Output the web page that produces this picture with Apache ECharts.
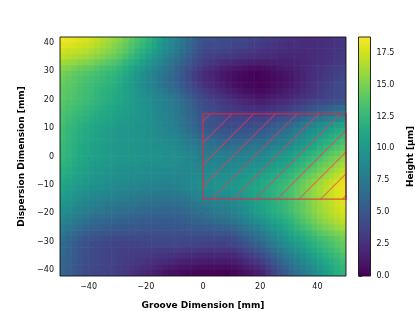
<!DOCTYPE html>
<html><head><meta charset="utf-8">
<style>html,body{margin:0;padding:0;background:#fff}#c{width:415px;height:311px}</style>
<script src="https://cdn.jsdelivr.net/npm/echarts@6/dist/echarts.min.js"></script>
</head><body><div id="c"></div>
<script>
const xCenters=[-49,-47,-45,-43,-41,-39,-37,-35,-33,-31,-29,-27,-25,-23,-21,-19,-17,-15,-13,-11,-9,-7,-5,-3,-1,1,3,5,7,9,11,13,15,17,19,21,23,25,27,29,31,33,35,37,39,41,43,45,47,49];
const yCenters=[41,39,37,35,33,31,29,27,25,23,21,19,17,15,13,11,9,7,5,3,1,-1,-3,-5,-7,-9,-11,-13,-15,-17,-19,-21,-23,-25,-27,-29,-31,-33,-35,-37,-39,-41];
const cellW=2,cellH=2;
const heights=[
[18.4,18.2,18.1,17.9,17.7,17.4,17,16.6,16.2,15.8,15.3,14.7,14,13.4,12.9,12.1,11.3,10.5,9.7,8.9,8.1,7.3,6.5,5.8,5,4.6,4.5,4.4,4.3,4.2,4.1,4,3.9,3.7,3.6,3.4,3.2,3,2.9,2.7,2.6,2.5,2.4,2.4,2.3,2.4,2.5,2.7,2.8,3],
[17.9,17.8,17.6,17.4,17.3,17,16.6,16.2,15.8,15.4,14.9,14.3,13.6,13,12.4,11.7,11,10.1,9.3,8.6,7.8,7.1,6.3,5.5,4.8,4.4,4.3,4.2,4.1,4,3.8,3.7,3.6,3.4,3.3,3.1,2.9,2.8,2.6,2.5,2.4,2.4,2.3,2.3,2.3,2.4,2.5,2.6,2.8,2.9],
[17.4,17.2,17.1,16.9,16.7,16.4,16.1,15.7,15.3,15,14.5,13.9,13.2,12.5,11.9,11.2,10.5,9.8,9,8.3,7.5,6.8,6,5.2,4.5,4,3.9,3.8,3.7,3.6,3.4,3.3,3.2,3,2.9,2.7,2.6,2.5,2.4,2.3,2.2,2.2,2.2,2.3,2.3,2.4,2.5,2.6,2.8,2.9],
[16.9,16.7,16.5,16.3,16.1,15.8,15.5,15.1,14.8,14.4,13.9,13.2,12.6,12,11.3,10.6,9.9,9.2,8.5,7.8,7,6.3,5.6,4.9,4.2,3.7,3.5,3.4,3.2,3.1,3,2.8,2.7,2.6,2.4,2.4,2.3,2.2,2.1,2,2,2.1,2.1,2.2,2.3,2.4,2.5,2.7,2.9,3.1],
[16.1,15.9,15.7,15.4,15.2,15,14.6,14.3,13.9,13.6,13.1,12.4,11.9,11.2,10.5,9.9,9.2,8.6,7.9,7.2,6.5,5.8,5.1,4.4,3.7,3.2,2.9,2.7,2.4,2.2,2,1.9,1.8,1.6,1.5,1.5,1.5,1.6,1.6,1.7,1.7,1.8,2,2.1,2.3,2.4,2.6,2.8,3,3.2],
[15.3,15.1,14.8,14.5,14.3,14.1,13.8,13.4,13.1,12.8,12.3,11.7,11.1,10.5,9.9,9.2,8.6,8,7.3,6.7,6,5.3,4.6,3.9,3.2,2.7,2.4,2,1.7,1.4,1.2,1.1,0.9,0.7,0.6,0.7,0.9,1,1.2,1.4,1.5,1.7,2,2.2,2.5,2.7,2.9,3.1,3.3,3.5],
[14.8,14.5,14.2,13.9,13.7,13.5,13.2,12.9,12.6,12.3,11.9,11.3,10.7,10,9.4,8.8,8.2,7.6,7,6.5,5.8,5.1,4.3,3.5,2.8,2.2,1.9,1.6,1.2,0.9,0.7,0.5,0.4,0.2,0.1,0.2,0.4,0.6,0.8,1,1.2,1.5,1.9,2.2,2.5,2.7,3,3.2,3.5,3.7],
[14.5,14.2,13.9,13.6,13.3,13.1,12.9,12.6,12.3,12,11.6,11,10.4,9.8,9.3,8.7,8.1,7.5,6.9,6.3,5.6,4.9,4.2,3.4,2.8,2.3,2,1.6,1.2,0.9,0.6,0.4,0.3,0.2,0.1,0.2,0.3,0.5,0.7,0.9,1.1,1.5,1.8,2.2,2.5,2.8,3.1,3.4,3.7,4],
[14.3,14,13.7,13.4,13.1,12.9,12.6,12.3,12,11.8,11.4,10.8,10.3,9.7,9.2,8.7,8.1,7.5,6.9,6.4,5.8,5.1,4.4,3.8,3.1,2.6,2.2,1.9,1.5,1.1,0.8,0.6,0.4,0.3,0.2,0.2,0.4,0.6,0.8,1,1.2,1.6,2,2.4,2.8,3.1,3.4,3.7,4,4.2],
[14.1,13.8,13.6,13.3,13,12.8,12.5,12.1,11.8,11.5,11.2,10.7,10.3,9.9,9.4,8.9,8.4,7.9,7.4,6.9,6.4,5.7,5,4.3,3.7,3.2,2.8,2.4,2,1.6,1.3,1,0.8,0.6,0.5,0.5,0.7,0.9,1.1,1.3,1.6,1.9,2.2,2.6,2.9,3.2,3.5,3.8,4,4.3],
[14,13.7,13.5,13.2,12.9,12.7,12.4,12,11.7,11.4,11.1,10.7,10.3,9.9,9.5,9.1,8.7,8.3,7.9,7.5,7,6.2,5.5,4.8,4.2,3.7,3.3,3,2.6,2.2,1.9,1.6,1.4,1.2,1,1,1.2,1.4,1.6,1.8,2,2.3,2.6,2.8,3.1,3.4,3.6,3.9,4.1,4.4],
[13.8,13.5,13.3,13,12.8,12.5,12.2,11.9,11.5,11.3,11,10.6,10.2,9.9,9.6,9.2,8.8,8.5,8.1,7.8,7.3,6.6,6,5.3,4.7,4.2,3.9,3.5,3.1,2.8,2.5,2.3,2.1,1.9,1.6,1.6,1.8,2,2.2,2.4,2.7,3,3.3,3.6,3.9,4.1,4.3,4.5,4.8,5],
[13.6,13.3,13,12.8,12.5,12.2,11.9,11.6,11.3,11,10.8,10.5,10.2,9.9,9.6,9.3,9,8.6,8.2,7.9,7.4,6.8,6.2,5.5,4.9,4.4,4.1,3.8,3.5,3.2,2.9,2.8,2.6,2.5,2.3,2.3,2.5,2.7,2.9,3.1,3.4,3.7,4.1,4.4,4.8,5.2,5.5,5.8,6.1,6.4],
[13.4,13.1,12.8,12.6,12.3,11.9,11.6,11.3,11.1,10.9,10.6,10.4,10.1,9.9,9.7,9.4,9,8.7,8.4,8,7.5,6.9,6.3,5.7,5.1,4.7,4.4,4.1,3.8,3.5,3.3,3.2,3.1,3,2.9,3,3.2,3.4,3.7,3.9,4.2,4.6,5,5.4,5.8,6.2,6.5,6.9,7.3,7.6],
[13.2,12.8,12.5,12.2,11.9,11.6,11.3,11.1,10.9,10.6,10.4,10.2,10,9.8,9.7,9.4,9,8.7,8.4,8.1,7.6,7.1,6.5,5.9,5.3,4.9,4.7,4.4,4.2,3.9,3.8,3.8,3.7,3.7,3.6,3.7,4,4.3,4.6,4.8,5.2,5.7,6.2,6.7,7.1,7.5,7.9,8.3,8.6,9],
[13,12.6,12.3,11.9,11.6,11.3,11,10.8,10.6,10.3,10.1,10,9.9,9.7,9.6,9.3,9,8.8,8.5,8.2,7.7,7.2,6.6,6,5.4,5,4.8,4.6,4.4,4.3,4.2,4.2,4.2,4.3,4.3,4.5,4.9,5.2,5.5,5.9,6.4,6.9,7.5,8,8.5,9,9.4,9.8,10.3,10.7],
[12.9,12.5,12.1,11.7,11.4,11.1,10.9,10.7,10.5,10.2,10,9.9,9.8,9.6,9.5,9.4,9.1,8.9,8.6,8.3,7.9,7.5,6.9,6.3,5.8,5.5,5.2,5,4.9,4.7,4.7,4.8,4.8,4.9,5,5.2,5.5,5.9,6.3,6.7,7.2,7.8,8.3,8.9,9.4,9.9,10.3,10.8,11.3,11.7],
[12.8,12.4,12,11.6,11.3,11,10.8,10.6,10.4,10.1,10,9.9,9.8,9.7,9.6,9.4,9.2,9,8.8,8.6,8.3,7.9,7.4,6.9,6.4,6.1,5.9,5.7,5.5,5.4,5.4,5.4,5.5,5.6,5.7,5.9,6.3,6.7,7,7.4,7.9,8.5,9,9.6,10.1,10.6,11.1,11.6,12.1,12.5],
[12.7,12.3,11.9,11.5,11.2,10.9,10.7,10.5,10.3,10.1,10,9.9,9.8,9.7,9.6,9.5,9.3,9.2,9,8.9,8.6,8.2,7.8,7.4,7,6.8,6.6,6.4,6.3,6.2,6.2,6.3,6.5,6.6,6.7,6.9,7.2,7.6,7.9,8.2,8.7,9.2,9.7,10.3,10.7,11.3,11.8,12.2,12.7,13.2],
[12.7,12.2,11.8,11.4,11.1,10.8,10.6,10.4,10.2,10,9.9,9.8,9.8,9.7,9.6,9.5,9.4,9.3,9.2,9.1,8.9,8.6,8.2,7.9,7.5,7.3,7.2,7.1,7,6.9,7,7.1,7.2,7.4,7.5,7.7,8,8.4,8.7,9,9.4,9.9,10.4,10.9,11.4,12,12.5,13,13.5,14],
[12.5,12.1,11.7,11.3,11,10.7,10.5,10.4,10.2,10.1,10,9.9,9.8,9.8,9.7,9.6,9.5,9.5,9.4,9.3,9.1,8.8,8.6,8.3,8,7.8,7.8,7.8,7.7,7.7,7.7,7.8,8,8.2,8.3,8.5,8.8,9.2,9.5,9.8,10.2,10.7,11.2,11.7,12.2,12.7,13.3,13.8,14.3,14.8],
[12.4,12,11.6,11.2,10.9,10.6,10.4,10.3,10.1,10,9.9,9.8,9.8,9.7,9.6,9.6,9.5,9.5,9.4,9.3,9.2,9,8.7,8.5,8.2,8.1,8.1,8.2,8.2,8.2,8.2,8.4,8.5,8.7,8.8,9.1,9.4,9.8,10.1,10.4,10.8,11.4,11.9,12.4,12.9,13.4,14,14.5,15,15.6],
[12.1,11.8,11.4,11,10.7,10.4,10.2,10.1,9.9,9.8,9.7,9.6,9.6,9.5,9.4,9.4,9.3,9.3,9.2,9.2,9,8.9,8.8,8.6,8.5,8.4,8.5,8.5,8.6,8.6,8.7,8.8,9,9.2,9.3,9.6,9.9,10.3,10.6,10.9,11.4,11.9,12.5,13,13.5,14.1,14.6,15.1,15.7,16.2],
[11.8,11.5,11.1,10.8,10.5,10.2,10,9.9,9.7,9.6,9.4,9.3,9.3,9.2,9.2,9.1,9,9,8.9,8.8,8.8,8.7,8.7,8.7,8.7,8.7,8.8,8.9,8.9,9,9.1,9.3,9.5,9.7,9.9,10.2,10.5,10.8,11.2,11.5,12,12.5,13,13.6,14.1,14.7,15.2,15.7,16.3,16.8],
[11.5,11.2,10.9,10.6,10.3,10,9.8,9.7,9.5,9.3,9.2,9.2,9.1,9,9,8.9,8.8,8.8,8.7,8.6,8.6,8.6,8.7,8.8,8.9,9,9.1,9.2,9.3,9.4,9.5,9.7,9.9,10.2,10.4,10.7,11,11.4,11.8,12.1,12.6,13.1,13.7,14.3,14.8,15.4,15.9,16.4,16.9,17.4],
[11.2,10.9,10.6,10.3,10,9.8,9.6,9.5,9.3,9.1,9,9,8.9,8.8,8.7,8.6,8.5,8.5,8.4,8.4,8.4,8.6,8.8,9,9.2,9.3,9.4,9.5,9.6,9.7,9.9,10.1,10.4,10.6,10.8,11.2,11.5,11.9,12.2,12.6,13.1,13.7,14.3,14.9,15.5,16,16.5,17,17.5,17.9],
[10.9,10.6,10.3,10,9.7,9.4,9.3,9.2,9,8.9,8.8,8.7,8.5,8.4,8.3,8.2,8.2,8.1,8.1,8,8.1,8.4,8.6,8.8,9.1,9.2,9.3,9.5,9.6,9.8,10,10.2,10.5,10.8,11,11.4,11.7,12.1,12.5,12.9,13.4,14,14.6,15.2,15.8,16.3,16.8,17.3,17.8,18.1],
[10.5,10.2,9.9,9.6,9.3,9,8.9,8.7,8.5,8.4,8.2,8.1,8,7.9,7.8,7.7,7.6,7.6,7.5,7.5,7.5,7.8,8,8.3,8.6,8.8,8.9,9.1,9.3,9.4,9.6,9.9,10.3,10.6,10.9,11.2,11.6,12,12.5,12.9,13.4,14,14.6,15.1,15.7,16.2,16.7,17.2,17.7,18],
[10.2,9.9,9.5,9.2,8.9,8.6,8.5,8.3,8.1,8,7.8,7.7,7.6,7.5,7.4,7.3,7.2,7.2,7.1,7.1,7.1,7.3,7.6,7.9,8.1,8.3,8.4,8.6,8.8,8.9,9.2,9.5,9.9,10.3,10.6,11,11.4,11.9,12.3,12.7,13.3,13.9,14.4,15,15.6,16.1,16.6,17.1,17.6,17.9],
[9.8,9.5,9.1,8.7,8.4,8.1,8,7.8,7.6,7.5,7.3,7.2,7.1,7,6.9,6.8,6.7,6.7,6.6,6.6,6.6,6.8,7.1,7.3,7.6,7.8,8,8.2,8.3,8.5,8.8,9.2,9.6,10.1,10.5,10.9,11.4,11.8,12.2,12.7,13.2,13.7,14.3,14.9,15.5,16,16.5,16.9,17.4,17.8],
[9.4,9.1,8.7,8.3,8,7.7,7.5,7.4,7.2,7.1,6.9,6.8,6.7,6.5,6.4,6.3,6.2,6.2,6.1,6.1,6.1,6.3,6.5,6.8,7,7.2,7.4,7.7,7.9,8,8.4,8.9,9.4,9.9,10.4,10.8,11.3,11.7,12.1,12.6,13.1,13.7,14.3,14.8,15.4,15.9,16.3,16.8,17.2,17.6],
[8.9,8.5,8.1,7.7,7.3,7,6.9,6.8,6.6,6.5,6.3,6.2,6.1,6,5.9,5.8,5.7,5.7,5.7,5.6,5.7,5.9,6.1,6.3,6.5,6.7,7,7.2,7.4,7.5,7.9,8.4,8.9,9.4,9.9,10.4,10.9,11.3,11.7,12.2,12.7,13.3,13.9,14.5,15.1,15.6,16.1,16.5,16.9,17.3],
[8.4,8,7.6,7.1,6.7,6.4,6.3,6.1,6,5.9,5.7,5.7,5.6,5.5,5.4,5.4,5.4,5.3,5.3,5.3,5.4,5.5,5.6,5.8,5.9,6.1,6.2,6.5,6.6,6.8,7.2,7.6,8.2,8.7,9.1,9.7,10.2,10.6,11.1,11.6,12.2,12.8,13.4,14,14.6,15.1,15.6,16,16.5,16.8],
[7.8,7.4,7,6.6,6.2,5.9,5.8,5.6,5.4,5.3,5.2,5.1,5.1,5.1,5,5,5,5,5,5,5,5.1,5.2,5.2,5.3,5.4,5.5,5.6,5.8,5.9,6.2,6.8,7.3,7.8,8.2,8.8,9.4,9.9,10.5,11,11.6,12.2,12.8,13.4,14,14.5,15,15.4,15.8,16.2],
[7.3,6.9,6.4,6,5.6,5.3,5.2,5,4.9,4.8,4.7,4.7,4.7,4.6,4.6,4.6,4.6,4.6,4.6,4.6,4.6,4.6,4.7,4.7,4.7,4.7,4.8,4.9,4.9,5,5.2,5.8,6.3,6.8,7.2,7.8,8.5,9.1,9.8,10.4,11,11.6,12.1,12.6,13.2,13.7,14.2,14.6,15,15.4],
[6.7,6.3,5.9,5.4,5,4.7,4.6,4.4,4.2,4.1,4,4,4,4.1,4.1,4.1,4.1,4.2,4.2,4.2,4.2,4.1,4.1,4.1,4,4,4,4,4,4.1,4.4,4.9,5.4,6,6.4,7,7.7,8.4,9.1,9.7,10.3,10.9,11.4,12,12.5,13,13.4,13.8,14.3,14.7],
[6.4,6,5.5,5,4.6,4.3,4.2,4,3.8,3.7,3.6,3.6,3.7,3.7,3.8,3.8,3.9,3.9,3.9,3.9,3.9,3.8,3.8,3.7,3.7,3.6,3.5,3.5,3.5,3.6,3.8,4.3,4.7,5.2,5.6,6.2,7,7.7,8.4,9,9.7,10.3,10.8,11.4,11.9,12.4,12.9,13.3,13.8,14.2],
[6.3,5.9,5.4,5,4.6,4.2,4.1,3.9,3.7,3.6,3.5,3.5,3.5,3.4,3.4,3.4,3.4,3.3,3.3,3.2,3.2,3.1,3,3,2.9,2.8,2.8,2.8,2.8,2.8,2.9,3.4,3.8,4.3,4.7,5.3,6,6.8,7.5,8.2,8.9,9.5,10.1,10.7,11.3,11.8,12.4,12.8,13.3,13.8],
[6.2,5.8,5.4,4.9,4.5,4.2,4,3.9,3.7,3.6,3.5,3.4,3.4,3.3,3.3,3.1,3,2.9,2.8,2.7,2.5,2.4,2.3,2.2,2.1,2,2,2,2,2,2.1,2.5,3,3.4,3.8,4.4,5.2,5.9,6.7,7.4,8.1,8.8,9.4,10,10.6,11.3,11.8,12.3,12.8,13.3],
[6.1,5.7,5.2,4.8,4.4,4.1,3.9,3.8,3.7,3.6,3.4,3.3,3.2,3,2.9,2.7,2.5,2.3,2.2,2,1.8,1.7,1.6,1.5,1.4,1.3,1.3,1.3,1.3,1.3,1.4,1.7,2.2,2.6,2.9,3.5,4.3,5,5.8,6.6,7.3,8,8.6,9.3,9.9,10.6,11.1,11.7,12.2,12.8],
[6,5.6,5.2,4.7,4.3,4,3.9,3.8,3.6,3.5,3.3,3.1,2.9,2.7,2.5,2.3,2,1.8,1.5,1.3,1.1,1,0.9,0.8,0.7,0.7,0.7,0.6,0.6,0.6,0.8,1,1.4,1.8,2,2.6,3.4,4.3,5.1,5.9,6.7,7.3,8,8.7,9.4,10,10.6,11.2,11.8,12.4],
[6,5.6,5.2,4.7,4.3,4,3.9,3.8,3.6,3.5,3.3,3,2.7,2.4,2.1,1.8,1.5,1.3,1,0.7,0.6,0.5,0.4,0.3,0.2,0.2,0.2,0.1,0.1,0.1,0.2,0.5,0.8,1.1,1.4,1.9,2.8,3.6,4.5,5.3,6.1,6.8,7.6,8.3,9,9.7,10.3,11,11.6,12.2]
];
const xTicks=[-40,-20,0,20,40];
const yTicks=[-40,-30,-20,-10,0,10,20,30,40];
const cbTicks=[0,2.5,5,7.5,10,12.5,15,17.5];
const xRange=[-50,50],yRange=[-42,42],heightRange=[0,18.73];
const regionX=[0,50],regionY=[-15,15];
const viridis=['#440154','#481a6c','#472f7d','#414487','#39568c','#31688e','#2a788e','#23888e','#1f988b','#22a884','#35b779','#54c568','#7ad151','#a5db36','#d2e21b','#fde725'];
const font='"DejaVu Sans"';
const minus=v=>String(v).replace('-','\u2212');
const heat=[];
heights.forEach((row,j)=>row.forEach((v,i)=>heat.push([xCenters[i],yCenters[j],v])));

const ink='#111';
function axisCommon(){return{axisLine:{show:false},splitLine:{show:false}};}
const option={
  animation:false,
  backgroundColor:'#fff',
  grid:[{left:60,top:37,width:286,height:239,outerBoundsMode:'none'},{left:358.5,top:37,width:12,height:239,outerBoundsMode:'none'}],
  xAxis:[
   {...axisCommon(),type:'value',gridIndex:0,min:xRange[0],max:xRange[1],
    axisTick:{show:true,length:3.5,lineStyle:{color:ink,width:0.8},customValues:xTicks},
    axisLabel:{customValues:xTicks,formatter:minus,fontFamily:font,fontSize:8,color:'#111',margin:7},
    name:'Groove Dimension [mm]',nameLocation:'middle',nameGap:25,
    nameTextStyle:{fontFamily:font,fontSize:9,fontWeight:'bold',color:'#000'}},
   {type:'value',gridIndex:1,min:0,max:1,show:false}
  ],
  yAxis:[
   {...axisCommon(),type:'value',gridIndex:0,min:yRange[0],max:yRange[1],
    axisTick:{show:true,length:3.5,lineStyle:{color:ink,width:0.8},customValues:yTicks},
    axisLabel:{customValues:yTicks,formatter:minus,fontFamily:font,fontSize:8,color:'#111',margin:6},
    name:'Dispersion Dimension [mm]',nameLocation:'middle',nameGap:34,
    nameTextStyle:{fontFamily:font,fontSize:9,fontWeight:'bold',color:'#000'}},
   {...axisCommon(),type:'value',gridIndex:1,position:'right',min:heightRange[0],max:heightRange[1],
    axisTick:{show:true,length:3.5,lineStyle:{color:ink,width:0.8},customValues:cbTicks},
    axisLabel:{customValues:cbTicks,formatter:v=>v.toFixed(1),fontFamily:font,fontSize:8,color:'#111',margin:6},
    name:'Height [\u00b5m]',nameLocation:'middle',nameGap:36,
    nameTextStyle:{fontFamily:font,fontSize:9,fontWeight:'bold',color:'#000'}}
  ],
  visualMap:{show:false,type:'continuous',min:heightRange[0],max:heightRange[1],dimension:2,seriesIndex:0,inRange:{color:viridis}},
  series:[
   {type:'custom',name:'Height',xAxisIndex:0,yAxisIndex:0,data:heat,encode:{x:0,y:1},clip:true,silent:true,
    renderItem(p,api){
      const c=api.coord([api.value(0),api.value(1)]);
      const s=api.size([cellW,cellH]);
      return{type:'rect',shape:{x:c[0]-s[0]/2-0.3,y:c[1]-s[1]/2-0.3,width:s[0]+0.6,height:s[1]+0.6},
        style:{fill:api.visual('color'),stroke:null}};
    }},
   {type:'custom',name:'Region',xAxisIndex:0,yAxisIndex:0,z:5,silent:true,
    data:[[regionX[0],regionY[0],regionX[1],regionY[1]]],encode:{x:[0,2],y:[1,3]},
    renderItem(p,api){
      const a=api.coord([api.value(0),api.value(3)]),b=api.coord([api.value(2),api.value(1)]);
      const kids=[];
      const x0=a[0],y0=a[1],x1=b[0],y1=b[1];
      const step=21.75;
      for(let c=324;c<x1+y1+1;c+=step){
        let xa=c-y0,ya=y0; if(xa>x1){xa=x1;ya=c-x1;}
        let xb=c-y1,yb=y1; if(xb<x0){xb=x0;yb=c-x0;}
        kids.push({type:'line',shape:{x1:xa,y1:ya,x2:xb,y2:yb},
          style:{stroke:'rgba(255,50,90,0.6)',lineWidth:1.1}});
      }
      kids.push({type:'rect',shape:{x:x0,y:y0,width:x1-x0,height:y1-y0},
        style:{fill:null,stroke:'rgba(235,40,65,0.78)',lineWidth:1.3}});
      return{type:'group',children:kids};
    }},
   {type:'custom',name:'Frame',xAxisIndex:0,yAxisIndex:0,z:6,silent:true,
    data:[[xRange[0],yRange[0],xRange[1],yRange[1]]],encode:{x:[0,2],y:[1,3]},clip:false,
    renderItem(p,api){
      const a=api.coord([api.value(0),api.value(3)]),b=api.coord([api.value(2),api.value(1)]);
      return{type:'rect',shape:{x:a[0],y:a[1],width:b[0]-a[0],height:b[1]-a[1]},
        style:{fill:null,stroke:ink,lineWidth:0.9}};
    }},
   {type:'custom',name:'Colorbar',xAxisIndex:1,yAxisIndex:1,z:5,silent:true,clip:false,
    data:[[0,heightRange[0],1,heightRange[1]]],encode:{x:[0,2],y:[1,3]},
    renderItem(p,api){
      const a=api.coord([api.value(0),api.value(3)]),b=api.coord([api.value(2),api.value(1)]);
      return{type:'rect',shape:{x:a[0],y:a[1],width:b[0]-a[0],height:b[1]-a[1]},
        style:{stroke:ink,lineWidth:0.9,
         fill:new echarts.graphic.LinearGradient(0,1,0,0,viridis.map((c,i)=>({offset:i/(viridis.length-1),color:c})))}};
    }}
  ]
};
const chart=echarts.init(document.getElementById('c'),null,{renderer:'canvas'});
chart.setOption(option);
</script></body></html>
